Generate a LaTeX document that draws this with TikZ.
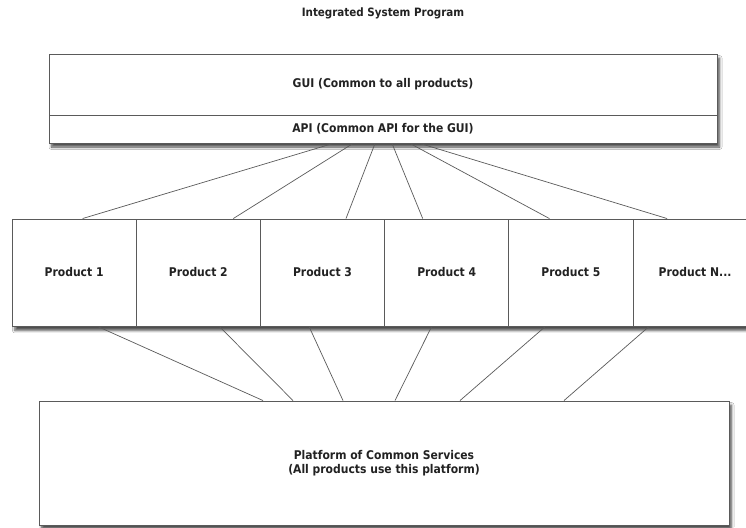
\documentclass[tikz,border=0pt]{standalone}
\usepackage{fontspec}
\setmainfont{DejaVu Sans Condensed}
\usetikzlibrary{shadows.blur}
\definecolor{edge}{HTML}{5A5A5A}
\definecolor{ink}{HTML}{222222}
\tikzset{
  box/.style={draw=edge, line width=0.9pt, fill=white, rectangle, inner sep=0pt,
    font=\bfseries\fontsize{12}{13.5}\selectfont, text=ink, align=center},
  shade box/.style={blur shadow={shadow xshift=2.5pt, shadow yshift=-4pt,
    shadow blur steps=6, shadow blur radius=2.5pt, shadow opacity=70}},
  cell/.style={box, minimum width=124.2pt, minimum height=107pt},
  link/.style={draw=edge, line width=0.7pt},
}
\begin{document}
\begin{tikzpicture}[x=1pt, y=-1pt]
\useasboundingbox (0,0) rectangle (746,527);
\fill[white] (0,0) rectangle (746,527);

% title
\node[font=\bfseries\fontsize{11.5}{13}\selectfont, text=ink] (title) at (383,13) {Integrated System Program};

% GUI layer with its API strip
\node[box, shade box, minimum width=668pt, minimum height=89pt] (top) at (383,98.5) {};
\node[box, minimum width=668pt, minimum height=61pt] (gui) at (383,84.5) {GUI (Common to all products)};
\node[box, minimum width=668pt, minimum height=28pt] (api) at (383,129) {API (Common API for the GUI)};

% product row
\node[box, shade box, minimum width=760pt, minimum height=107pt, anchor=north west] (row) at (12,219) {};
\node[cell] (p1) at (74.1,272.5) {Product 1};
\node[cell] (p2) at (198.3,272.5) {Product 2};
\node[cell] (p3) at (322.5,272.5) {Product 3};
\node[cell] (p4) at (446.7,272.5) {Product 4};
\node[cell] (p5) at (570.9,272.5) {Product 5};
\node[cell] (p6) at (695.1,272.5) {Product N...};

% platform
\node[box, shade box, minimum width=690pt, minimum height=124pt] (plat) at (384,463)
  {Platform of Common Services\\(All products use this platform)};

% API to products
\draw[link] ([xshift=-50pt]api.south) -- ([xshift=8.5pt]p1.north);
\draw[link] ([xshift=-30pt]api.south) -- ([xshift=35pt]p2.north);
\draw[link] ([xshift=-8pt]api.south) -- ([xshift=23.5pt]p3.north);
\draw[link] ([xshift=9pt]api.south) -- ([xshift=-24pt]p4.north);
\draw[link] ([xshift=27pt]api.south) -- ([xshift=-21.5pt]p5.north);
\draw[link] ([xshift=37pt]api.south) -- ([xshift=-28pt]p6.north);

% products to platform
\draw[link] ([xshift=23.5pt]p1.south) -- ([xshift=-121pt]plat.north);
\draw[link] ([xshift=21pt]p2.south) -- ([xshift=-91pt]plat.north);
\draw[link] ([xshift=-13.5pt]p3.south) -- ([xshift=-41pt]plat.north);
\draw[link] ([xshift=-15pt]p4.south) -- ([xshift=11pt]plat.north);
\draw[link] ([xshift=-25.5pt]p5.south) -- ([xshift=76pt]plat.north);
\draw[link] ([xshift=-46pt]p6.south) -- ([xshift=180pt]plat.north);
\end{tikzpicture}
\end{document}
